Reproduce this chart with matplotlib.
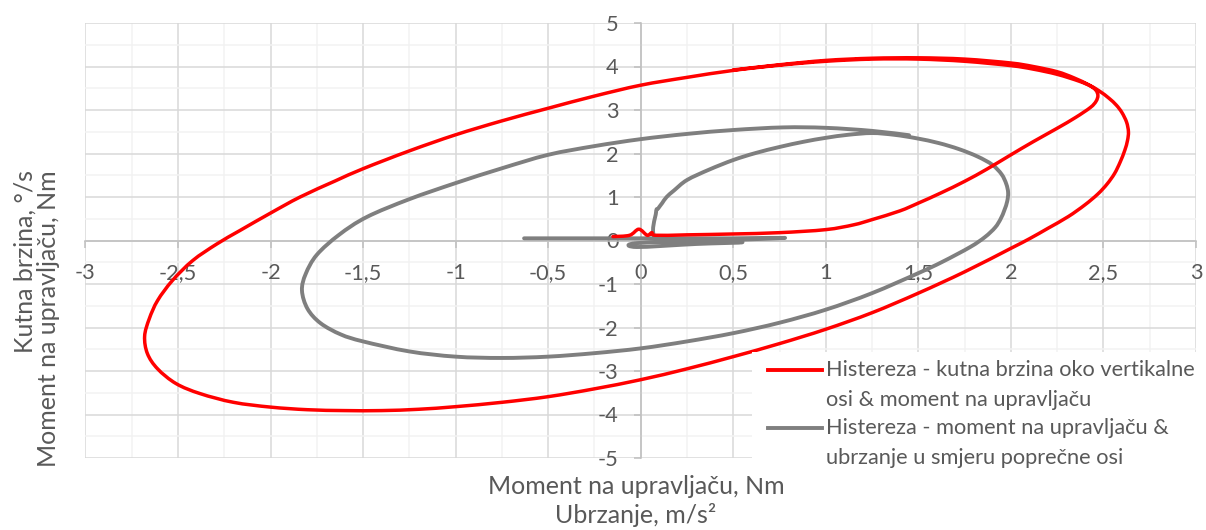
import numpy as np
import matplotlib
matplotlib.use("Agg")
import matplotlib.pyplot as plt
from matplotlib.lines import Line2D
from matplotlib.patches import Rectangle, PathPatch
from matplotlib.path import Path
from matplotlib.ticker import FuncFormatter, MultipleLocator

plt.rcParams['font.family'] = ['Lato', 'DejaVu Sans']

# hysteresis: yaw rate vs steering torque  (x, y)
red_pts = [(-0.15, 0.09), (-0.06, 0.12), (-0.01, 0.26), (0.035, 0.12), (0.06, 0.18), (0.08, 0.12),
           (0.25, 0.13), (0.5, 0.15), (0.75, 0.18), (1.0, 0.25), (1.15, 0.36), (1.25, 0.48),
           (1.4, 0.68), (1.5, 0.86), (1.62, 1.09), (1.75, 1.36), (1.87, 1.64), (2.0, 1.97),
           (2.12, 2.27), (2.25, 2.58), (2.35, 2.83), (2.43, 3.06), (2.46, 3.2), (2.47, 3.33),
           (2.46, 3.45), (2.43, 3.55), (2.37, 3.66), (2.25, 3.82), (2.12, 3.94), (2.0, 4.02),
           (1.75, 4.12), (1.5, 4.17), (1.25, 4.17), (1.0, 4.12), (0.75, 4.03), (0.5, 3.91),
           (0.25, 3.75), (0.0, 3.57), (-0.25, 3.32), (-0.5, 3.04), (-0.75, 2.75), (-1.0, 2.43),
           (-1.25, 2.06), (-1.5, 1.65), (-1.65, 1.37), (-1.84, 1.0), (-2.0, 0.63), (-2.165, 0.23),
           (-2.29, -0.08), (-2.42, -0.46), (-2.53, -0.92), (-2.61, -1.38), (-2.655, -1.8),
           (-2.68, -2.2), (-2.665, -2.6), (-2.61, -2.95), (-2.51, -3.29), (-2.38, -3.52),
           (-2.2, -3.72), (-2.0, -3.83), (-1.8, -3.89), (-1.6, -3.91), (-1.4, -3.91), (-1.2, -3.88),
           (-1.0, -3.82), (-0.75, -3.72), (-0.5, -3.59), (-0.25, -3.41), (0.0, -3.2), (0.25, -2.95),
           (0.5, -2.67), (0.75, -2.37), (1.0, -2.04), (1.25, -1.66), (1.5, -1.21), (1.75, -0.72),
           (2.0, -0.18), (2.1, 0.04), (2.2, 0.28), (2.31, 0.55), (2.4, 0.82), (2.47, 1.07),
           (2.52, 1.3), (2.56, 1.54), (2.59, 1.8), (2.615, 2.07), (2.63, 2.3), (2.635, 2.5),
           (2.625, 2.72), (2.6, 2.94), (2.57, 3.11), (2.53, 3.27), (2.48, 3.43), (2.42, 3.58),
           (2.34, 3.74), (2.25, 3.88), (2.12, 4.0), (2.0, 4.08), (1.75, 4.17), (1.5, 4.2),
           (1.25, 4.19), (1.0, 4.14), (0.75, 4.04), (0.5, 3.92)]

# hysteresis: steering torque vs lateral acceleration  (x, y)
gray_pts = [(-0.63, 0.05), (-0.3, 0.05), (0.2, 0.05), (0.5, 0.05), (0.78, 0.06), (0.4, 0.0),
            (-0.02, -0.06), (-0.02, -0.15), (0.3, -0.08), (0.55, -0.04), (0.3, 0.0), (0.083, 0.05),
            (0.083, 0.65), (0.095, 0.74), (0.116, 0.86), (0.14, 1.0), (0.18, 1.15), (0.25, 1.39),
            (0.37, 1.63), (0.5, 1.85), (0.62, 2.01), (0.75, 2.15), (0.88, 2.27), (1.0, 2.36),
            (1.12, 2.43), (1.25, 2.47), (1.37, 2.43), (1.49, 2.35), (1.61, 2.24), (1.72, 2.1),
            (1.82, 1.93), (1.9, 1.74), (1.95, 1.52), (1.975, 1.3), (1.985, 1.1), (1.98, 0.9),
            (1.965, 0.7), (1.945, 0.5), (1.915, 0.3), (1.86, 0.08), (1.78, -0.15), (1.63, -0.49),
            (1.5, -0.75), (1.25, -1.21), (1.0, -1.59), (0.75, -1.89), (0.5, -2.13), (0.25, -2.32),
            (0.0, -2.48), (-0.25, -2.59), (-0.5, -2.67), (-0.75, -2.7), (-1.0, -2.67),
            (-1.25, -2.55), (-1.5, -2.32), (-1.62, -2.16), (-1.73, -1.9), (-1.8, -1.57),
            (-1.83, -1.15), (-1.81, -0.77), (-1.75, -0.33), (-1.63, 0.13), (-1.48, 0.54),
            (-1.25, 0.95), (-1.0, 1.32), (-0.75, 1.66), (-0.5, 1.97), (-0.25, 2.17), (0.0, 2.33),
            (0.25, 2.45), (0.5, 2.54), (0.77, 2.6), (1.0, 2.59), (1.25, 2.52), (1.45, 2.42)]

legend_labels = ["Histereza - kutna brzina oko vertikalne\nosi & moment na upravljaču",
                 "Histereza - moment na upravljaču &\nubrzanje u smjeru poprečne osi"]
x_title = ["Moment na upravljaču, Nm", "Ubrzanje, m/s²"]
y_title = ["Kutna brzina, °/s", "Moment na upravljaču, Nm"]

RED = '#FF0000'
GRAY = '#7F7F7F'
TXT = '#595959'
FS = 15.7       # ticks and legend
FS_TITLE = 18   # axis titles

W, H = 1206, 530
fig = plt.figure(figsize=(W / 100, H / 100), dpi=100)
ax = fig.add_axes([85.4 / W, 1 - 458 / H, (1196 - 85.4) / W, (458 - 23) / H])


def fpos(x, y):
    # pixel position (origin top-left) -> figure fraction
    return x / W, 1 - y / H


def smooth_path(pts):
    # "smoothed line" style: cubic Bezier segments through every point (Catmull-Rom tangents)
    p = np.asarray(pts, dtype=float)
    ext = np.vstack([p[0], p, p[-1]])
    verts = [p[0]]
    codes = [Path.MOVETO]
    for i in range(1, len(p)):
        p0, p1, p2, p3 = ext[i - 1], ext[i], ext[i + 1], ext[i + 2]
        verts += [p1 + (p2 - p0) / 6, p2 - (p3 - p1) / 6, p2]
        codes += [Path.CURVE4] * 3
    return Path(verts, codes)


for pts, col, lw, z in [(gray_pts, GRAY, 2.8, 3), (red_pts, RED, 2.5, 4)]:
    ax.add_patch(PathPatch(smooth_path(pts), facecolor='none', edgecolor=col, lw=lw,
                           joinstyle='round', capstyle='round', zorder=z))

ax.set_xlim(-3, 3)
ax.set_ylim(-5, 5)
ax.xaxis.set_major_locator(MultipleLocator(0.5))
ax.xaxis.set_minor_locator(MultipleLocator(0.25))
ax.yaxis.set_major_locator(MultipleLocator(1))
ax.yaxis.set_minor_locator(MultipleLocator(0.5))
fmt = FuncFormatter(lambda v, p: ('%g' % (v if abs(v) > 1e-9 else 0)).replace('.', ','))
ax.xaxis.set_major_formatter(fmt)
ax.yaxis.set_major_formatter(fmt)

ax.set_axisbelow(True)
ax.grid(True, which='major', color='#D9D9D9', lw=1.1)
ax.grid(True, which='minor', color='#F2F2F2', lw=1.1)

for s in ['top', 'right']:
    ax.spines[s].set_visible(False)
for s in ['left', 'bottom']:
    ax.spines[s].set_position(('data', 0))
    ax.spines[s].set_color('#BFBFBF')
    ax.spines[s].set_linewidth(1.1)
    ax.spines[s].set_zorder(1.5)

ax.tick_params(which='major', direction='out', length=5, width=1.1, color='#BFBFBF',
               labelsize=FS, labelcolor=TXT, pad=11)
ax.tick_params(which='minor', length=0)

# axis titles
fig.text(*fpos(25, 170), y_title[0], rotation=90, ha='center', va='top', fontsize=FS_TITLE, color=TXT)
fig.text(*fpos(49, 170), y_title[1], rotation=90, ha='center', va='top', fontsize=FS_TITLE, color=TXT)
fig.text(*fpos(636, 486), x_title[0], ha='center', va='center', fontsize=FS_TITLE, color=TXT)
fig.text(*fpos(636, 515), x_title[1], ha='center', va='center', fontsize=FS_TITLE, color=TXT)

# legend box over the lower right part of the plot
x0, y0 = fpos(752, 478)
fig.add_artist(Rectangle((x0, y0), 1 - x0, (478 - 352) / H, transform=fig.transFigure,
                         facecolor='white', edgecolor='none', zorder=5))
for i, (label, col) in enumerate(zip(legend_labels, [RED, GRAY])):
    ly = 370 + i * 58
    fig.add_artist(Line2D([768 / W, 822 / W], [1 - ly / H] * 2, color=col, lw=2.8,
                          transform=fig.transFigure, zorder=6))
    for j, line in enumerate(label.split('\n')):
        fig.text(*fpos(826, ly + j * 29.5), line, ha='left', va='center', fontsize=FS,
                 color=TXT, zorder=6)

fig.savefig('out.png', dpi=100)
